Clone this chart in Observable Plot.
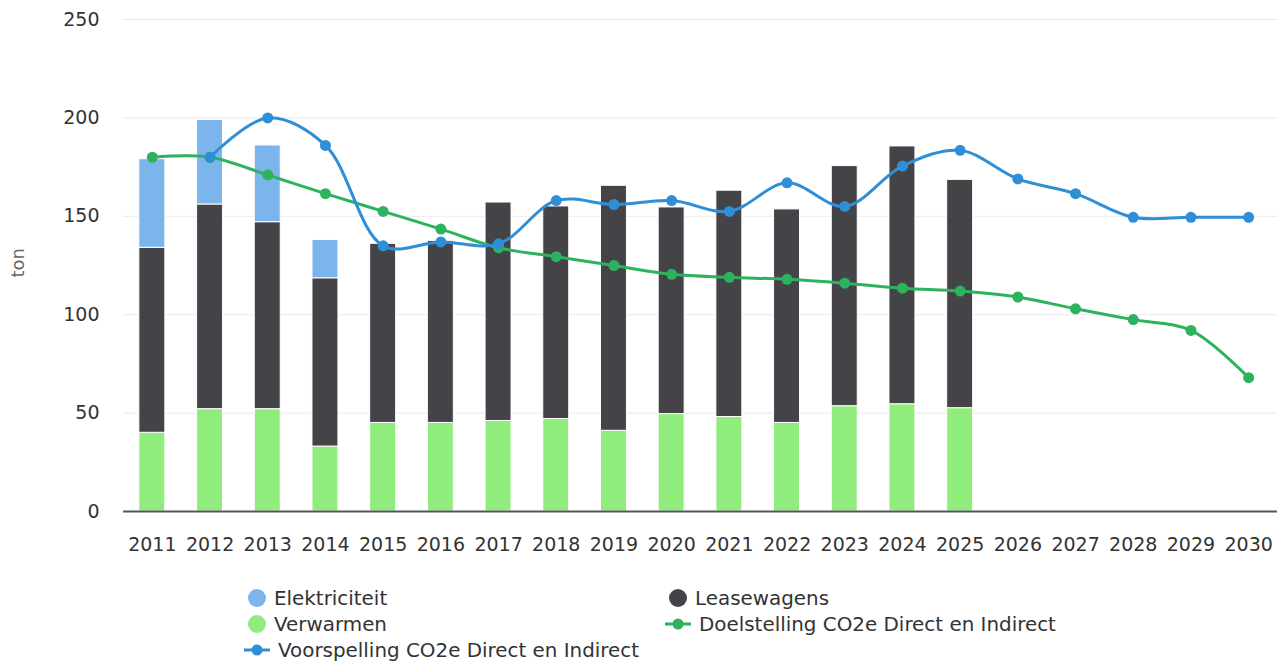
<!DOCTYPE html>
<html>
<head>
<meta charset="utf-8">
<script src="https://cdn.jsdelivr.net/npm/d3@7"></script>
<script src="https://cdn.jsdelivr.net/npm/@observablehq/plot@0.6"></script>
<style>
  html, body { margin: 0; padding: 0; background: #fff; }
  #wrap { position: relative; width: 1281px; height: 662px; font-family: "DejaVu Sans", Verdana, sans-serif; }
  #legend { position: absolute; left: 0; top: 575px; width: 1281px; height: 87px; font-size: 19.9px; color: #333; }
  .item { position: absolute; display: flex; align-items: center; height: 24px; white-space: nowrap; }
  .item svg { margin-right: 6px; }
</style>
</head>
<body>
<div id="wrap">
  <div id="chart"></div>
  <div id="legend"></div>
</div>
<script>
const years = ["2011","2012","2013","2014","2015","2016","2017","2018","2019","2020","2021","2022","2023","2024","2025","2026","2027","2028","2029","2030"];
const barYears = years.slice(0, 15);
const verwarmen     = [40, 52, 52, 33, 45, 45, 46, 47, 41, 49.5, 48, 45, 53.5, 54.5, 52.5];
const leasewagens   = [94, 104, 95, 85.5, 91, 92.5, 111, 108, 124.5, 105, 115, 108.5, 122, 131, 116];
const elektriciteit = [45, 43, 39, 19.5, 0, 0, 0, 0, 0, 0, 0, 0, 0, 0, 0];
const voorspellingYears = years.slice(1);
const voorspelling  = [180, 200, 186, 135, 137, 136, 158, 156, 158, 152.5, 167, 155, 175.5, 183.5, 169, 161.5, 149.5, 149.5, 149.5];
const doelstelling  = [180, 180, 171, 161.5, 152.5, 143.5, 134, 129.5, 125, 120.5, 119, 118, 116, 113.5, 112, 109, 103, 97.5, 92, 68];
const yTicks = [0, 50, 100, 150, 200, 250];

const cats = ["Verwarmen", "Leasewagens", "Elektriciteit"];
const catColors = ["#90ed7d", "#434348", "#7cb5ec"];
const blue = "#2f8fd6";
const green = "#2db35d";

const rows = [];
barYears.forEach((y, i) => {
  rows.push({year: y, cat: "Verwarmen", v: verwarmen[i]});
  rows.push({year: y, cat: "Leasewagens", v: leasewagens[i]});
  if (elektriciteit[i] > 0) rows.push({year: y, cat: "Elektriciteit", v: elektriciteit[i]});
});
const voor = voorspellingYears.map((y, i) => ({year: y, v: voorspelling[i]}));
const doel = years.map((y, i) => ({year: y, v: doelstelling[i]}));

const chart = Plot.plot({
  width: 1281,
  height: 575,
  marginTop: 19,
  marginBottom: 64,
  marginLeft: 123,
  marginRight: 4,
  style: {fontFamily: "DejaVu Sans, Verdana, sans-serif", fontSize: "19px", color: "#333", background: "#fff"},
  x: {domain: years, paddingInner: 0.55, paddingOuter: 0.275, round: false, label: null, tickSize: 0, tickPadding: 26},
  y: {domain: [0, 250], ticks: yTicks, label: null, tickSize: 0, tickPadding: 24, grid: true},
  color: {domain: cats, range: catColors},
  marks: [
    Plot.barY(rows, {x: "year", y: "v", fill: "cat", order: cats, stroke: "white", strokeWidth: 1}),
    Plot.ruleY([0], {stroke: "#555", strokeWidth: 2}),
    Plot.line(doel, {x: "year", y: "v", stroke: green, strokeWidth: 3, curve: "catmull-rom"}),
    Plot.dot(doel, {x: "year", y: "v", fill: green, r: 5.5}),
    Plot.line(voor, {x: "year", y: "v", stroke: blue, strokeWidth: 3, curve: "catmull-rom"}),
    Plot.dot(voor, {x: "year", y: "v", fill: blue, r: 5.5}),
    Plot.text(["ton"], {frameAnchor: "left", dx: -105, dy: 12, rotate: -90, fontSize: 18, fill: "#666"})
  ]
});
document.getElementById("chart").appendChild(chart);

const legendItems = [
  {label: "Elektriciteit", type: "circle", color: "#7cb5ec", left: 246, top: 11},
  {label: "Leasewagens", type: "circle", color: "#434348", left: 667, top: 11},
  {label: "Verwarmen", type: "circle", color: "#90ed7d", left: 246, top: 37},
  {label: "Doelstelling CO2e Direct en Indirect", type: "line", color: green, left: 663, top: 37},
  {label: "Voorspelling CO2e Direct en Indirect", type: "line", color: blue, left: 242, top: 63}
];
const legend = document.getElementById("legend");
legendItems.forEach(it => {
  const d = document.createElement("div");
  d.className = "item";
  d.style.left = it.left + "px";
  d.style.top = it.top + "px";
  let sym;
  if (it.type === "circle") {
    sym = `<svg width="22" height="22"><circle cx="11" cy="11" r="9" fill="${it.color}"/></svg>`;
  } else {
    sym = `<svg width="30" height="22"><line x1="2" x2="28" y1="11" y2="11" stroke="${it.color}" stroke-width="3"/><circle cx="15" cy="11" r="5.5" fill="${it.color}"/></svg>`;
  }
  d.innerHTML = sym + `<span>${it.label}</span>`;
  legend.appendChild(d);
});
</script>
</body>
</html>
